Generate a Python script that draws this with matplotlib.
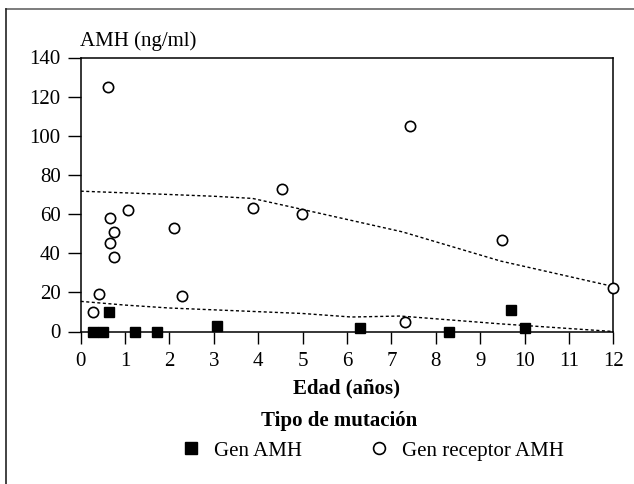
import matplotlib
matplotlib.use('Agg')
import matplotlib.pyplot as plt
from matplotlib.lines import Line2D

plt.rcParams['font.family'] = ['Liberation Serif', 'DejaVu Serif']
plt.rcParams['font.size'] = 15

# Gen AMH (filled squares)
amh_age = [0.28, 0.50, 0.63, 1.22, 1.72, 3.06, 6.30, 8.30, 9.70, 10.02]
amh_val = [0, 0, 10, 0, 0, 3, 2, 0, 11, 2]

# Gen receptor AMH (open circles)
rec_age = [0.28, 0.41, 0.61, 0.65, 0.67, 0.76, 0.76, 1.07, 2.10, 2.29,
           3.88, 4.54, 4.98, 7.31, 7.41, 9.50, 12.0]
rec_val = [10, 19, 125, 45, 58, 51, 38, 62, 53, 18,
           63, 73, 60, 5, 105, 47, 22]

# dashed trend curves
trend_rec_x = [0, 2.0, 3.0, 3.87, 4.95, 7.25, 9.46, 12]
trend_rec_y = [71.7, 70.0, 69.1, 68.0, 62.6, 50.9, 36.0, 23.0]
trend_amh_x = [0, 1.0, 2.0, 5.0, 6.1, 7.2, 9.46, 12]
trend_amh_y = [15.4, 13.5, 12.0, 9.2, 7.4, 7.9, 3.9, 0]

xticks = list(range(0, 13))
yticks = list(range(0, 141, 20))

fig = plt.figure(figsize=(6.34, 4.84), dpi=100)
ax = fig.add_axes([80.7/634, 1-331.5/484, (613.3-80.7)/634, (331.5-57.5)/484])

ax.plot(trend_rec_x, trend_rec_y, color='black', lw=1.0, ls=(0, (2.2, 1.8)))
ax.plot(trend_amh_x, trend_amh_y, color='black', lw=1.0, ls=(0, (2.2, 1.8)), clip_on=False)

sq, = ax.plot(amh_age, amh_val, ls='none', marker='s', ms=7.4, color='black',
              clip_on=False, zorder=4, label='Gen AMH')
ci, = ax.plot(rec_age, rec_val, ls='none', marker='o', ms=7.4, mfc='white',
              mec='black', mew=1.2, clip_on=False, zorder=4, label='Gen receptor AMH')

ax.set_xlim(0, 12)
ax.set_ylim(0, 140)
ax.set_xticks(xticks)
ax.set_yticks(yticks)
ax.tick_params(axis='y', direction='out', length=9.5, width=1, pad=5, labelsize=15)
ax.tick_params(axis='x', direction='out', length=8.5, width=1, pad=6, labelsize=15)
for s in ax.spines.values():
    s.set_linewidth(1.1)

ax.set_xlabel('Edad (años)', fontweight='bold', fontsize=15, labelpad=6)

fig.text(80/634, 1-46/484, 'AMH (ng/ml)', fontsize=15, ha='left', va='baseline')
fig.text(339/634, 1-426/484, 'Tipo de mutación', fontsize=15, fontweight='bold',
         ha='center', va='baseline')

fig.legend(handles=[sq, ci], loc='center left', bbox_to_anchor=(181/634, 1-451/484),
           ncol=2, frameon=False, handlelength=1.0, handletextpad=0.6,
           columnspacing=3.2, borderpad=0, borderaxespad=0, markerscale=1.15,
           fontsize=15)

# outer frame (top and left)
fig.add_artist(Line2D([6/634, 1], [1-8.5/484, 1-8.5/484], transform=fig.transFigure,
                      color='#666666', lw=1.2))
fig.add_artist(Line2D([6/634, 6/634], [0, 1-8.5/484], transform=fig.transFigure,
                      color='#222222', lw=1.2))

fig.savefig('out.png', dpi=100)
